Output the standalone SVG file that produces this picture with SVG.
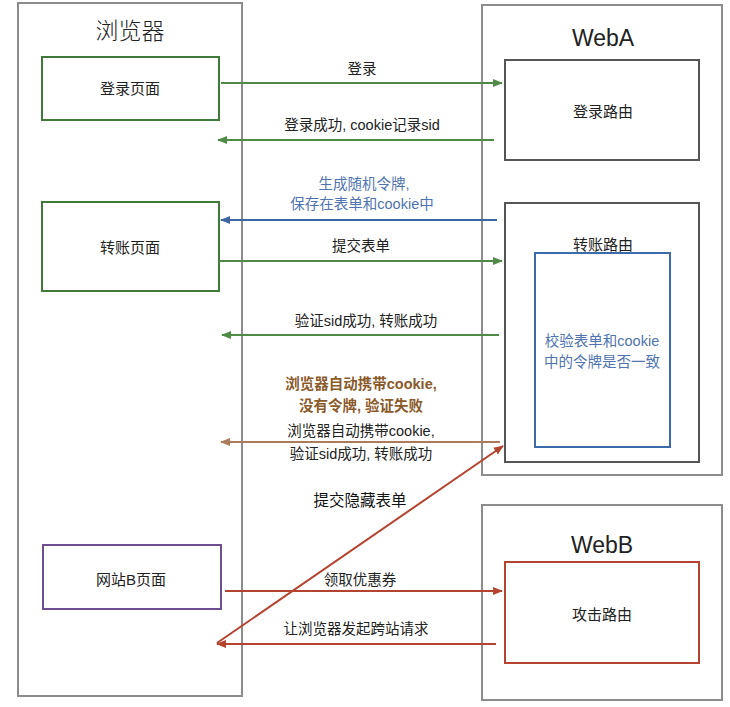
<svg xmlns="http://www.w3.org/2000/svg" width="730" height="707" viewBox="0 0 730 707">
<defs>
<style>
text{font-family:"Liberation Sans","Noto Sans CJK SC",sans-serif;fill:#222;text-anchor:middle}
.title{font-size:23px;font-weight:300}
.node{font-size:15px}
.lbl{font-size:14.5px}
.outer{fill:#fff;stroke:#8c8c8c;stroke-width:2}
.g{fill:none;stroke:#3f7a38;stroke-width:2}
.route{fill:none;stroke:#555;stroke-width:2}
.ln{fill:none;stroke-width:2}
</style>
<marker id="ag" viewBox="0 0 10 10" refX="9" refY="5" markerWidth="5" markerHeight="5" orient="auto"><path d="M0,1 L10,5 L0,9 z" fill="#4f8a47"/></marker>
<marker id="ab" viewBox="0 0 10 10" refX="9" refY="5" markerWidth="5" markerHeight="5" orient="auto"><path d="M0,1 L10,5 L0,9 z" fill="#3d66a3"/></marker>
<marker id="abr" viewBox="0 0 10 10" refX="9" refY="5" markerWidth="5" markerHeight="5" orient="auto"><path d="M0,1 L10,5 L0,9 z" fill="#ab7b5c"/></marker>
<marker id="ar" viewBox="0 0 10 10" refX="9" refY="5" markerWidth="5" markerHeight="5" orient="auto"><path d="M0,1 L10,5 L0,9 z" fill="#b4432f"/></marker>
</defs>
<rect width="730" height="707" fill="#fff"/>

<g id="browser">
<rect class="outer" x="18" y="3" width="224" height="693"/>
<text class="title" x="130" y="39">浏览器</text>
</g>
<g id="webA">
<rect class="outer" x="482" y="5" width="240" height="470"/>
<text class="title" x="603" y="46">WebA</text>
</g>
<g id="webB">
<rect class="outer" x="482" y="505" width="240" height="195"/>
<text class="title" x="602" y="553">WebB</text>
</g>

<g id="loginPage">
<rect class="g" x="42" y="57" width="177" height="63"/>
<text class="node" x="130" y="94">登录页面</text>
</g>
<g id="transferPage">
<rect class="g" x="42" y="202" width="177" height="89"/>
<text class="node" x="130" y="253">转账页面</text>
</g>
<g id="siteBPage">
<rect x="43" y="545" width="178" height="64" fill="none" stroke="#6b4f8f" stroke-width="2"/>
<text class="node" x="131" y="585">网站B页面</text>
</g>
<g id="loginRoute">
<rect class="route" x="505" y="60" width="194" height="100"/>
<text class="node" x="603" y="117">登录路由</text>
</g>
<g id="transferRoute">
<rect class="route" x="505" y="203" width="194" height="259"/>
<text class="node" x="603" y="250">转账路由</text>
</g>
<g id="tokenCheck">
<rect x="535" y="253" width="135" height="194" fill="none" stroke="#3d6aa8" stroke-width="2"/>
<text class="lbl" x="602" y="346" style="fill:#4f74b0">校验表单和cookie</text>
<text class="lbl" x="602" y="367" style="fill:#4f74b0">中的令牌是否一致</text>
</g>
<g id="attackRoute">
<rect x="505" y="562" width="194" height="101" fill="none" stroke="#b4432f" stroke-width="2"/>
<text class="node" x="602" y="620">攻击路由</text>
</g>

<g id="connectors">
<line class="ln" x1="221" y1="83" x2="502" y2="83" stroke="#4f8a47" marker-end="url(#ag)"/>
<text class="lbl" x="362" y="74">登录</text>
<line class="ln" x1="494" y1="140" x2="218" y2="140" stroke="#4f8a47" marker-end="url(#ag)"/>
<text class="lbl" x="362" y="130">登录成功, cookie记录sid</text>

<line class="ln" x1="497" y1="220" x2="221" y2="220" stroke="#3d66a3" marker-end="url(#ab)"/>
<text class="lbl" x="364" y="189" style="fill:#4f74b0">生成随机令牌,</text>
<text class="lbl" x="362" y="209" style="fill:#4f74b0">保存在表单和cookie中</text>

<line class="ln" x1="219" y1="261" x2="502" y2="261" stroke="#4f8a47" marker-end="url(#ag)"/>
<text class="lbl" x="361" y="251">提交表单</text>

<line class="ln" x1="499" y1="335" x2="222" y2="335" stroke="#4f8a47" marker-end="url(#ag)"/>
<text class="lbl" x="366" y="326">验证sid成功, 转账成功</text>

<text class="lbl" x="361" y="389" style="fill:#8b5a2b;font-weight:bold">浏览器自动携带cookie,</text>
<text class="lbl" x="361" y="411" style="fill:#8b5a2b;font-weight:bold">没有令牌, 验证失败</text>
<line class="ln" x1="500" y1="442" x2="221" y2="442" stroke="#ab7b5c" marker-end="url(#abr)"/>
<text class="lbl" x="361" y="436">浏览器自动携带cookie,</text>
<text class="lbl" x="361" y="459">验证sid成功, 转账成功</text>

<line class="ln" x1="217" y1="643" x2="503" y2="446" stroke="#b4432f" marker-end="url(#ar)"/>
<text x="360" y="506" style="font-size:15.5px;fill:#111">提交隐藏表单</text>

<line class="ln" x1="225" y1="591" x2="502" y2="591" stroke="#b4432f" marker-end="url(#ar)"/>
<text class="lbl" x="360" y="585">领取优惠券</text>
<line class="ln" x1="496" y1="644" x2="217" y2="644" stroke="#b4432f" marker-end="url(#ar)"/>
<text class="lbl" x="356" y="634">让浏览器发起跨站请求</text>
</g>
</svg>
